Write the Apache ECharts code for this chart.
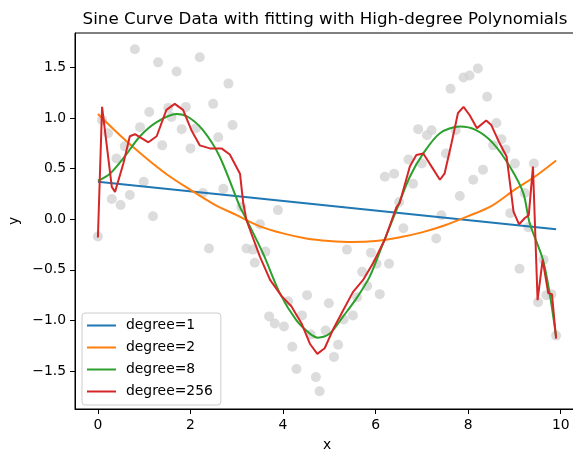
<!DOCTYPE html>
<html>
<head>
<meta charset="utf-8">
<script src="https://cdn.jsdelivr.net/npm/echarts@6/dist/echarts.min.js"></script>
<style>
  html, body { margin: 0; padding: 0; background: #fff; overflow: hidden; }
  /* the source figure is cut off just left of its right spine, so draw a bit wider */
  #chart { width: 590px; height: 450px; }
</style>
</head>
<body>
<div id="chart"></div>
<script>
// noisy sine samples
const sampleX = [
  0.00, 0.09, 0.22, 0.30, 0.40, 0.49, 0.58, 0.69, 0.80, 0.91,
  0.99, 1.11, 1.19, 1.30, 1.39, 1.52, 1.59, 1.70, 1.81, 1.90,
  2.00, 2.12, 2.20, 2.27, 2.40, 2.49, 2.60, 2.71, 2.82, 2.91,
  3.10, 3.21, 3.35, 3.39, 3.50, 3.62, 3.70, 3.82, 3.89, 4.02,
  4.11, 4.20, 4.29, 4.41, 4.52, 4.60, 4.71, 4.79, 4.92, 4.99,
  5.10, 5.19, 5.31, 5.38, 5.51, 5.60, 5.71, 5.82, 5.90, 6.02,
  6.09, 6.20, 6.29, 6.40, 6.51, 6.60, 6.71, 6.81, 6.92, 7.00,
  7.11, 7.21, 7.31, 7.42, 7.52, 7.62, 7.73, 7.82, 7.90, 8.03,
  8.11, 8.21, 8.32, 8.41, 8.54, 8.61, 8.72, 8.81, 8.91, 9.01,
  9.11, 9.22, 9.30, 9.42, 9.51, 9.63, 9.69, 9.80, 9.90
];
const sampleY = [
  -0.17, 0.98, 0.85, 0.20, 0.60, 0.14, 0.72, 0.24, 1.68, 0.91,
  0.37, 1.06, 0.03, 1.55, 0.73, 1.10, 1.01, 1.46, 0.89, 1.11,
  0.70, 0.90, 1.60, 0.26, -0.29, 1.14, 0.81, 0.30, 1.34, 0.93,
  0.12, -0.29, -0.30, -0.43, -0.05, -0.32, -0.96, -1.03, 0.09, -1.06,
  -0.81, -1.26, -1.48, -0.95, -0.75, -1.14, -1.56, -1.70, -1.10, -0.83,
  -1.36, -1.24, -0.99, -0.30, -0.95, -0.77, -0.52, -0.66, -0.33, -0.44,
  -0.74, 0.42, -0.44, 0.45, 0.17, -0.09, 0.59, 0.35, 0.89, 0.55,
  0.83, 0.88, -0.19, 0.04, 0.65, 1.29, 0.88, 0.23, 1.40, 1.42,
  0.39, 1.49, 0.49, 1.21, 0.73, 0.95, 0.79, 0.69, 0.06, 0.55,
  -0.49, 0.26, -0.08, 0.55, -0.82, -0.40, -0.75, -0.74, -1.15
];

// fitted curves, sampled along x
const deg1X = [0, 9.9];
const deg1Y = [0.37, -0.10];

const deg2X = [0, 0.5, 1, 1.5, 2, 2.5, 3, 3.5, 4, 4.5, 5, 5.5, 6, 6.5, 7, 7.5, 8, 8.5, 9, 9.5, 9.9];
const deg2Y = [1.04, 0.82, 0.62, 0.44, 0.29, 0.15, 0.04, -0.07, -0.14, -0.19, -0.215, -0.225, -0.215, -0.18, -0.13, -0.06, 0.03, 0.13, 0.29, 0.44, 0.58];

const deg8X = [0, 0.26, 0.58, 0.91, 1.27, 1.70, 1.95, 2.27, 2.63, 3.07, 3.14, 3.57, 3.93, 4.29, 4.58, 4.75, 5.01, 5.30, 5.59, 5.87, 6.16, 6.45, 6.74, 7.03, 7.39, 7.82, 8.17, 8.54, 8.90, 9.19, 9.33, 9.61, 9.76, 9.90];
const deg8Y = [0.38, 0.45, 0.62, 0.82, 0.96, 1.04, 1.01, 0.88, 0.62, 0.12, 0.06, -0.34, -0.73, -1.00, -1.13, -1.17, -1.13, -0.96, -0.78, -0.57, -0.24, 0.09, 0.42, 0.65, 0.85, 0.915, 0.88, 0.75, 0.52, 0.26, -0.04, -0.39, -0.73, -1.16];

const deg256X = [
  0, 0.09, 0.30, 0.37, 0.55, 0.69, 0.80, 1.09, 1.27, 1.48,
  1.66, 1.84, 2.02, 2.20, 2.42, 2.67, 2.85, 3.07, 3.14, 3.21,
  3.50, 3.72, 3.97, 4.18, 4.40, 4.58, 4.74, 4.90, 5.08, 5.30,
  5.51, 5.73, 5.95, 6.20, 6.45, 6.52, 6.74, 6.88, 7.03, 7.21,
  7.39, 7.49, 7.64, 7.78, 7.90, 8.03, 8.19, 8.39, 8.50, 8.68,
  8.83, 8.93, 8.98, 9.10, 9.22, 9.31, 9.40, 9.50, 9.61,
  9.73, 9.81, 9.90
];
const deg256Y = [
  -0.18, 1.11, 0.32, 0.27, 0.55, 0.82, 0.84, 0.76, 0.82, 1.08,
  1.14, 1.08, 0.88, 0.73, 0.70, 0.70, 0.64, 0.45, 0.16, -0.01,
  -0.37, -0.60, -0.76, -0.86, -1.03, -1.23, -1.33, -1.275, -1.09, -0.90,
  -0.72, -0.60, -0.43, -0.20, 0.12, 0.16, 0.52, 0.635, 0.65, 0.52,
  0.39, 0.45, 0.75, 1.05, 1.11, 1.03, 0.90, 0.975, 0.93, 0.75,
  0.62, 0.26, 0.075, -0.05, 0.01, 0.04, 0.52, -0.80, -0.40,
  -0.73, -0.74, -1.18
];

const xTicks = [0, 2, 4, 6, 8, 10];
const yTicks = [-1.5, -1.0, -0.5, 0.0, 0.5, 1.0, 1.5];

const zip = (xs, ys) => xs.map((x, i) => [x, ys[i]]);
const fmtY = v => v.toFixed(1).replace('-', '\u2212');
const font = 'DejaVu Sans';

const chart = echarts.init(document.getElementById('chart'));

function lineSeries(name, xs, ys, color, smooth) {
  return {
    name: name,
    type: 'line',
    data: zip(xs, ys),
    symbol: 'none',
    smooth: smooth,
    color: color,
    lineStyle: { width: 2, color: color },
    z: 3
  };
}

chart.setOption({
  animation: false,
  title: {
    text: 'Sine Curve Data with fitting with High-degree Polynomials',
    left: 320,
    top: 6,
    textAlign: 'center',
    textStyle: { fontFamily: font, fontSize: 16.7, fontWeight: 'normal', color: '#000' }
  },
  grid: {
    left: 75,
    top: 33,
    right: 11,
    bottom: 41,
    show: true,
    borderColor: '#000',
    borderWidth: 1,
    outerBoundsMode: 'none',
    containLabel: false
  },
  legend: {
    orient: 'vertical',
    left: 82,
    top: 313,
    icon: 'rect',
    itemWidth: 29,
    itemHeight: 2,
    itemGap: 7,
    padding: [5, 8, 6, 5],
    backgroundColor: 'rgba(255,255,255,0.8)',
    borderColor: '#cccccc',
    borderWidth: 1,
    borderRadius: 3,
    data: ['degree=1', 'degree=2', 'degree=8', 'degree=256'],
    textStyle: { fontFamily: font, fontSize: 13.9, color: '#000', padding: [0, 0, 0, 5], lineHeight: 15 }
  },
  xAxis: {
    type: 'value',
    min: -0.495,
    max: 10.395,
    name: 'x',
    nameLocation: 'middle',
    nameGap: 29,
    nameTextStyle: { fontFamily: font, fontSize: 13.9, color: '#000' },
    axisLine: { show: true, onZero: false, lineStyle: { color: '#000', width: 1 } },
    axisTick: { show: true, length: 5, customValues: xTicks, lineStyle: { color: '#000' } },
    axisLabel: { customValues: xTicks, margin: 9, fontFamily: font, fontSize: 13.9, color: '#000' },
    splitLine: { show: false }
  },
  yAxis: {
    type: 'value',
    min: -1.875,
    max: 1.84,
    name: 'y',
    nameLocation: 'middle',
    nameGap: 50,
    nameTextStyle: { fontFamily: font, fontSize: 13.9, color: '#000' },
    axisLine: { show: true, onZero: false, lineStyle: { color: '#000', width: 1 } },
    axisTick: { show: true, length: 5, customValues: yTicks, lineStyle: { color: '#000' } },
    axisLabel: { customValues: yTicks, margin: 9, formatter: fmtY, fontFamily: font, fontSize: 13.9, color: '#000' },
    splitLine: { show: false }
  },
  series: [
    {
      name: 'data',
      type: 'scatter',
      data: zip(sampleX, sampleY),
      symbolSize: 10,
      itemStyle: { color: '#d3d3d3' },
      z: 2
    },
    lineSeries('degree=1', deg1X, deg1Y, '#1f77b4', false),
    lineSeries('degree=2', deg2X, deg2Y, '#ff7f0e', 0.3),
    lineSeries('degree=8', deg8X, deg8Y, '#2ca02c', 0.3),
    lineSeries('degree=256', deg256X, deg256Y, '#d62728', false)
  ]
});
</script>
</body>
</html>
